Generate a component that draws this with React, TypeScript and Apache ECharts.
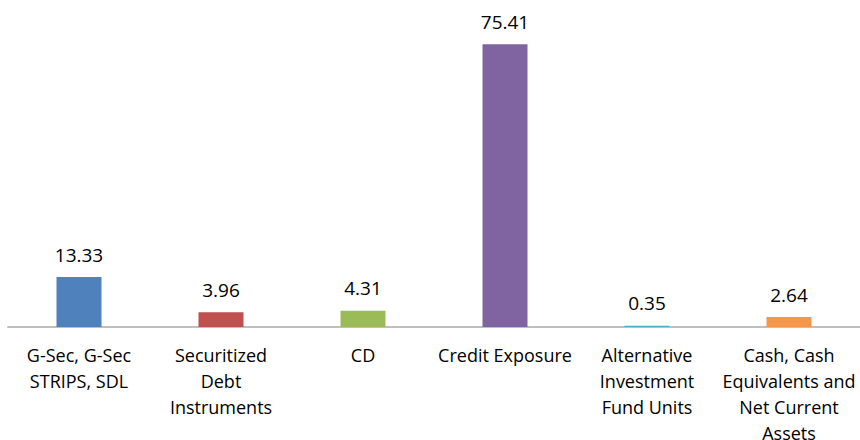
import React, { useEffect, useRef } from "react";
import * as echarts from "echarts";

const categories = [
  "G-Sec, G-Sec\nSTRIPS, SDL",
  "Securitized\nDebt\nInstruments",
  "CD",
  "Credit Exposure",
  "Alternative\nInvestment\nFund Units",
  "Cash, Cash\nEquivalents and\nNet Current\nAssets",
];
const values = [13.33, 3.96, 4.31, 75.41, 0.35, 2.64];
const colors = ["#4F81BD", "#C0504D", "#9BBB59", "#8064A2", "#4BACC6", "#F79646"];

export default function App() {
  const ref = useRef<HTMLDivElement>(null);
  useEffect(() => {
    document.body.style.margin = "0";
    if (!ref.current) return;
    const chart = echarts.init(ref.current, null, { renderer: "svg" });
    chart.setOption({
      animation: false,
      grid: {
        left: 8,
        right: 0,
        top: 27,
        bottom: 113,
        containLabel: false,
        outerBoundsMode: "none",
      },
      xAxis: {
        type: "category",
        data: categories,
        axisLine: { show: true, lineStyle: { color: "#BFBFBF", width: 2 } },
        axisTick: { show: false },
        axisLabel: {
          interval: 0,
          margin: 15,
          color: "#000",
          fontFamily: "Open Sans",
          fontSize: 18,
          lineHeight: 26,
        },
      },
      yAxis: {
        type: "value",
        min: 0,
        max: 80,
        show: false,
        splitLine: { show: false },
      },
      series: [
        {
          type: "bar",
          barWidth: 45,
          data: values.map((v, i) => ({ value: v, itemStyle: { color: colors[i] } })),
          label: {
            show: true,
            position: "top",
            distance: 13,
            color: "#000",
            fontFamily: "Open Sans",
            fontSize: 19,
            formatter: (p: any) => p.value.toFixed(2),
          },
        },
      ],
    });
    return () => chart.dispose();
  }, []);
  return <div ref={ref} style={{ width: 860, height: 440 }} />;
}
